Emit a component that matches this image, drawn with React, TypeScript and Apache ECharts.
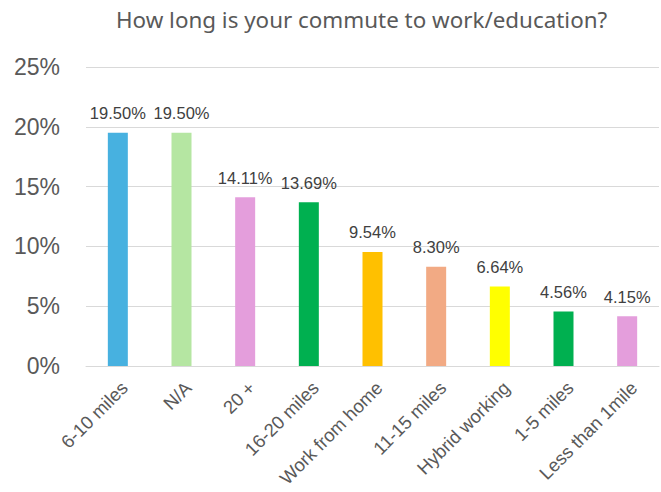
import React, { useEffect, useRef } from "react";
import * as echarts from "echarts";

const categories = ["6-10 miles", "N/A", "20 +", "16-20 miles", "Work from home", "11-15 miles", "Hybrid working", "1-5 miles", "Less than 1mile"];
const values = [19.5, 19.5, 14.11, 13.69, 9.54, 8.3, 6.64, 4.56, 4.15];
const barColors = ["#47B1E0", "#B5E6A2", "#E49EDC", "#00B050", "#FFC000", "#F2AA84", "#FFFF00", "#00B050", "#E49EDC"];
const yTicks = [0, 5, 10, 15, 20, 25];

export default function App() {
  const ref = useRef<HTMLDivElement>(null);
  useEffect(() => {
    const chart = echarts.init(ref.current!, null, { renderer: "svg" });
    chart.setOption({
      animation: false,
      backgroundColor: "#ffffff",
      title: {
        text: "How long is your commute to work/education?",
        left: 111,
        top: 3,
        textStyle: { fontFamily: "Noto Sans", fontSize: 22.4, fontWeight: "normal", color: "#595959" },
      },
      grid: { left: 86, right: 2, top: 67, bottom: 126, containLabel: false, outerBoundsMode: "none" },
      xAxis: {
        type: "category",
        data: categories,
        axisLine: { show: true, lineStyle: { color: "#d9d9d9", width: 1 } },
        axisTick: { show: false },
        axisLabel: {
          rotate: 45,
          interval: 0,
          margin: 12,
          align: "right",
          verticalAlign: "top",
          fontFamily: "Liberation Sans",
          fontSize: 18.5,
          color: "#595959",
        },
      },
      yAxis: {
        type: "value",
        min: yTicks[0],
        max: yTicks[yTicks.length - 1],
        interval: 5,
        axisLine: { show: false },
        axisTick: { show: false },
        splitLine: { lineStyle: { color: "#d9d9d9", width: 1 } },
        axisLabel: {
          formatter: (v: number) => `${v}%`,
          fontFamily: "Liberation Sans",
          fontSize: 23,
          color: "#595959",
          margin: 26,
        },
      },
      series: [
        {
          type: "bar",
          data: values.map((v, i) => ({ value: v, itemStyle: { color: barColors[i] } })),
          barWidth: 20,
          label: {
            show: true,
            position: "top",
            distance: 11,
            formatter: (p: any) => `${p.value.toFixed(2)}%`,
            fontFamily: "Liberation Sans",
            fontSize: 16.5,
            color: "#404040",
          },
        },
      ],
    });
    return () => chart.dispose();
  }, []);
  return <div ref={ref} style={{ width: 661, height: 492, position: "absolute", left: 0, top: 0 }} />;
}
